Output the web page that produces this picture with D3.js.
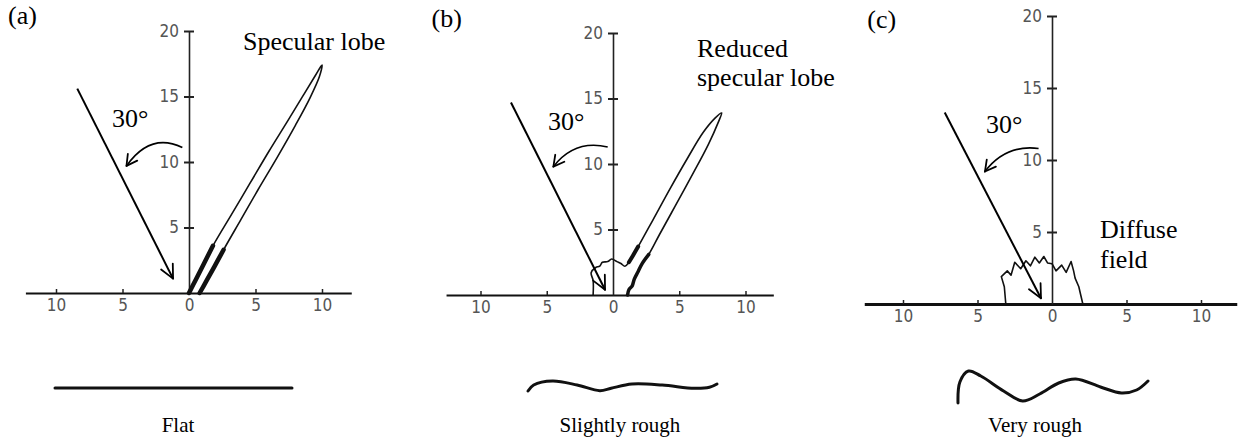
<!DOCTYPE html>
<html>
<head>
<meta charset="utf-8">
<script src="https://cdn.jsdelivr.net/npm/d3@7"></script>
<style>
  body { margin: 0; background: #fff; }
  svg { display: block; }
  .serif { font-family: "Liberation Serif", "Times New Roman", serif; fill: #000; }
</style>
</head>
<body>
<svg id="chart" width="1248" height="445"></svg>
<script>
// ---- axis ticks ----
const yTicks = [5, 10, 15, 20];
const xTicks = [-10, -5, 0, 5, 10];

// ---- panel text ----
const panelLetters = ["(a)", "(b)", "(c)"];
const surfaceNames = ["Flat", "Slightly rough", "Very rough"];
const angleLabel = "30\u00B0";

// ---- scattered intensity outlines, [horizontal, vertical] in axis units ----
const lobeFlat = [
  [0, 0], [0.5, 1.0], [1.1, 2.2], [1.8, 3.6], [3.2, 6.0], [4.6, 8.4], [6.0, 10.8],
  [7.4, 13.1], [8.6, 15.1], [9.5, 16.6], [10.0, 17.4], [9.8, 16.5], [9.1, 14.9],
  [8.0, 12.8], [6.6, 10.3], [5.2, 7.9], [3.9, 5.6], [2.6, 3.3], [1.9, 2.0], [1.3, 0.9], [0.8, 0]
];
const lobeSlight = [
  [-1.5, 0], [-1.5, 1.1], [-1.65, 1.7], [-1.3, 2.1], [-1.0, 2.2], [-0.8, 2.5], [-0.4, 2.55],
  [-0.1, 2.75], [0.3, 2.55], [0.6, 2.4], [0.9, 2.2], [1.2, 2.5], [1.5, 3.0], [1.9, 3.7],
  [3.0, 5.7], [4.3, 8.1], [5.6, 10.4], [6.8, 12.4], [7.7, 13.5], [8.2, 13.9], [7.95, 13.2],
  [7.2, 11.5], [6.0, 9.2], [4.7, 6.8], [3.5, 4.6], [2.7, 3.1], [2.2, 2.4], [1.9, 1.8],
  [1.6, 1.2], [1.45, 0.7], [1.2, 0.4], [1.1, 0]
];
const diffuseVery = [
  [-3.1, 0], [-3.2, 1.2], [-3.4, 1.9], [-3.0, 2.3], [-2.75, 2.0], [-2.5, 2.9], [-2.1, 2.45],
  [-1.75, 3.0], [-1.45, 2.65], [-1.15, 3.25], [-0.85, 2.85], [-0.55, 3.3], [-0.3, 2.85],
  [0, 2.8], [0.27, 2.3], [0.65, 2.7], [0.95, 2.2], [1.28, 2.95], [1.45, 2.3],
  [1.55, 1.8], [1.8, 1.2], [1.9, 0.75], [2.07, 0]
];

// ---- incident beam [start, end] and rotation arrow [start, control, end], axis units ----
const incidentA = [[-8.4, 15.6], [-1.2, 1.1]];
const incidentB = [[-7.7, 14.7], [-0.6, 0.4]];
const incidentC = [[-7.2, 13.3], [-0.74, 0.4]];
const turnA = [[-0.5, 11.1], [-2.9, 12.3], [-4.7, 9.7]];
const turnB = [[-0.4, 11.3], [-2.9, 11.9], [-4.5, 9.8]];
const turnC = [[-0.9, 10.8], [-3.1, 11.1], [-4.5, 9.2]];

// ---- surface profiles, [fraction of width, height] ----
const profileFlat = [[0, 0], [1, 0]];
const profileSlight = [
  [0, -3], [0.03, 3], [0.13, 7], [0.26, 3], [0.38, -2.7], [0.44, -0.3], [0.55, 4],
  [0.71, 3], [0.88, -0.3], [0.96, 0.7], [1, 4]
];
const profileVery = [
  [0, -15], [0.01, 6], [0.055, 17], [0.12, 12], [0.24, -3], [0.34, -13], [0.43, -6],
  [0.53, 5], [0.62, 9], [0.75, 1], [0.86, -5], [0.94, -2], [1, 7]
];

// ---- layout ----
const panels = [
  { cx: 189, base: 293, ux: 13.3, uy: 13.1, ext: [-12.3, 12.2], lobe: lobeFlat, curve: d3.curveCatmullRom,
    thick: [[0, 4, 4.5], [17, 21, 4.5]], incident: incidentA, turn: turnA,
    angleAt: [-5.79, 12.67], letterAt: [-13.6, 20.5],
    notes: [{ t: "Specular lobe", at: [4.06, 18.55] }],
    surface: profileFlat, sx: [55, 292], sy: 388, nameX: 178 },
  { cx: 613, base: 295, ux: 13.25, uy: 13.1, ext: [-12.6, 12.1], lobe: lobeSlight, curve: d3.curveCatmullRom,
    thick: [[11, 14, 4], [25, 32, 3.5]], incident: incidentB, turn: turnB,
    angleAt: [-4.9, 12.6], letterAt: [-13.7, 20.45],
    notes: [{ t: "Reduced", at: [6.34, 18.2] }, { t: "specular lobe", at: [6.34, 15.95] }],
    surface: profileSlight, sx: [528, 717], sy: 388, nameX: 620 },
  { cx: 1052, base: 304, ux: 14.9, uy: 14.4, ext: [-12.6, 12.4], lobe: diffuseVery, curve: d3.curveLinear,
    thick: [], incident: incidentC, turn: turnC,
    angleAt: [-4.43, 11.875], letterAt: [-12.4, 19.2],
    notes: [{ t: "Diffuse", at: [3.22, 4.58] }, { t: "field", at: [3.22, 2.5] }],
    surface: profileVery, sx: [958, 1148], sy: 388, nameX: 1035 }
];

const svg = d3.select("#chart");
const tickFont = '"Liberation Sans Narrow", "DejaVu Sans Condensed", "Arial Narrow", sans-serif';
const serifFont = '"Liberation Serif", "Times New Roman", serif';

function openHead(g, tip, from, len, spread) {
  const ang = Math.atan2(tip[1] - from[1], tip[0] - from[0]);
  [-spread, spread].forEach(s => {
    const a = ang + Math.PI + s;
    g.append("line")
      .attr("x1", tip[0]).attr("y1", tip[1])
      .attr("x2", tip[0] + len * Math.cos(a)).attr("y2", tip[1] + len * Math.sin(a))
      .attr("stroke", "#000").attr("stroke-width", 1.8).attr("stroke-linecap", "round");
  });
}

panels.forEach((p, i) => {
  const x = d3.scaleLinear().domain(p.ext).range([p.cx + p.ext[0] * p.ux, p.cx + p.ext[1] * p.ux]);
  const y = d3.scaleLinear().domain([0, 20]).range([p.base, p.base - 20 * p.uy]);
  const g = svg.append("g");

  // horizontal axis
  const gx = g.append("g").attr("transform", `translate(0,${p.base})`)
    .call(d3.axisBottom(x).tickValues(xTicks).tickFormat(d => Math.abs(d)).tickSize(0).tickPadding(0));
  gx.attr("font-family", tickFont).attr("font-size", 17);
  gx.select(".domain").attr("stroke", "#111").attr("stroke-width", i === 2 ? 3 : 2.2);
  gx.selectAll(".tick line").attr("y2", d => d === 0 ? 0 : -4).attr("stroke", "#222").attr("stroke-width", 1.5);
  gx.selectAll(".tick text").attr("y", 6).attr("dy", "0.71em").attr("fill", "#555");

  // vertical axis
  const gy = g.append("g").attr("transform", `translate(${x(0)},0)`)
    .call(d3.axisLeft(y).tickValues(yTicks).tickSizeOuter(0).tickSize(0));
  gy.attr("font-family", tickFont).attr("font-size", 17);
  gy.select(".domain").attr("stroke", "#222").attr("stroke-width", 1.6);
  gy.selectAll(".tick line").attr("x1", -5).attr("x2", 5).attr("stroke", "#222").attr("stroke-width", 2);
  gy.selectAll(".tick text").attr("x", -10).attr("fill", "#555");

  // scattered intensity
  const line = d3.line().x(d => x(d[0])).y(d => y(d[1])).curve(p.curve);
  g.append("path").attr("d", line(p.lobe)).attr("fill", "none")
    .attr("stroke", "#111").attr("stroke-width", 1.6).attr("stroke-linejoin", "round");
  p.thick.forEach(([a, b, w]) => {
    g.append("path").attr("d", line(p.lobe.slice(a, b))).attr("fill", "none")
      .attr("stroke", "#111").attr("stroke-width", w).attr("stroke-linecap", "round");
  });

  // incident beam
  const s0 = [x(p.incident[0][0]), y(p.incident[0][1])];
  const s1 = [x(p.incident[1][0]), y(p.incident[1][1])];
  g.append("line").attr("x1", s0[0]).attr("y1", s0[1]).attr("x2", s1[0]).attr("y2", s1[1])
    .attr("stroke", "#000").attr("stroke-width", 2);
  openHead(g, s1, s0, 15, 0.45);

  // rotation arrow
  const t = p.turn.map(d => [x(d[0]), y(d[1])]);
  g.append("path").attr("d", `M${t[0][0]},${t[0][1]}Q${t[1][0]},${t[1][1]} ${t[2][0]},${t[2][1]}`)
    .attr("fill", "none").attr("stroke", "#000").attr("stroke-width", 1.6);
  openHead(g, t[2], t[1], 12, 0.5);

  // annotations
  const txt = (s, at, size) => g.append("text").attr("class", "serif")
    .attr("font-family", serifFont).attr("font-size", size)
    .attr("x", x(at[0])).attr("y", y(at[1])).text(s);
  txt(angleLabel, p.angleAt, 26);
  txt(panelLetters[i], p.letterAt, 26);
  p.notes.forEach(n => txt(n.t, n.at, 26));

  // surface profile sketch
  const px = d3.scaleLinear().domain([0, 1]).range(p.sx);
  const py = d3.scaleLinear().domain([0, 1]).range([p.sy, p.sy - 1]);
  const prof = d3.line().x(d => px(d[0])).y(d => py(d[1])).curve(d3.curveCatmullRom);
  g.append("path").attr("d", prof(p.surface)).attr("fill", "none")
    .attr("stroke", "#111").attr("stroke-width", 3).attr("stroke-linecap", "round");
  g.append("text").attr("class", "serif").attr("font-family", serifFont)
    .attr("x", p.nameX).attr("y", 432)
    .attr("text-anchor", "middle").attr("font-size", 21).text(surfaceNames[i]);
});
</script>
</body>
</html>
